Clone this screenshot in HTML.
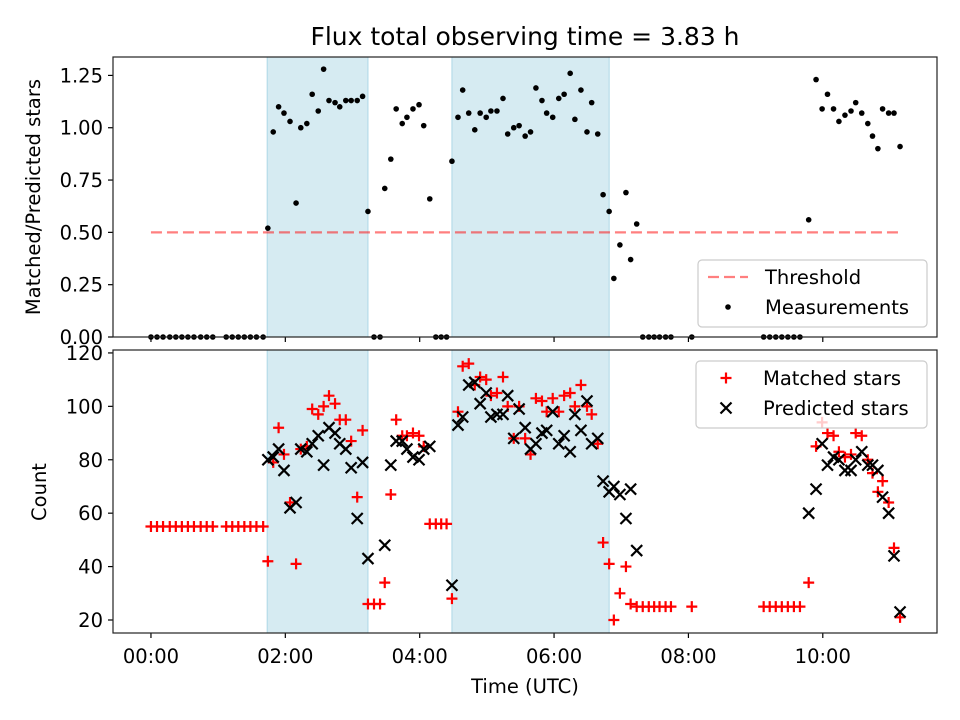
<!DOCTYPE html>
<html><head><meta charset="utf-8"><style>
html,body{margin:0;padding:0;background:#fff;}
svg{display:block;font-family:"DejaVu Sans","Liberation Sans",sans-serif;}
</style></head><body>
<svg id="chart" width="960" height="720" viewBox="0 0 960 720" xmlns="http://www.w3.org/2000/svg">
<text x="525" y="45" font-size="25" text-anchor="middle">Flux total observing time = 3.83 h</text>
<g id="topPanel"></g>
<g id="botPanel"></g>
<text transform="translate(40,197) rotate(-90)" font-size="19.5" text-anchor="middle">Matched/Predicted stars</text>
<text transform="translate(46,492) rotate(-90)" font-size="19.5" text-anchor="middle">Count</text>
<text x="525" y="693" font-size="19.5" text-anchor="middle">Time (UTC)</text>
</svg>
<script>
const times = [0.00,0.09,0.18,0.28,0.37,0.46,0.55,0.64,0.74,0.83,0.92,
1.12,1.21,1.30,1.39,1.48,1.57,1.67,
1.74,1.82,1.90,1.98,2.07,2.16,2.23,2.32,2.40,2.49,2.57,2.65,2.74,2.81,2.90,2.98,3.07,3.15,3.23,3.32,3.41,
3.48,3.57,3.65,3.74,3.81,3.90,3.99,4.06,4.15,4.24,4.32,4.40,
4.48,4.57,4.64,4.73,4.82,4.90,4.99,5.06,5.15,5.24,5.31,5.40,5.48,5.57,5.65,5.73,5.82,5.89,5.98,6.07,6.15,6.24,6.31,6.40,6.49,6.56,6.65,
6.73,6.82,6.89,6.98,7.07,7.14,7.23,7.32,7.41,7.49,7.57,7.66,7.74,8.05,
9.12,9.21,9.30,9.39,9.48,9.57,9.66,
9.79,9.90,9.99,10.07,10.16,10.24,10.33,10.42,10.49,10.58,10.67,10.74,10.82,10.89,10.98,11.06,11.15];
const ratios = [0,0,0,0,0,0,0,0,0,0,0,
0,0,0,0,0,0,0,
0.52,0.98,1.10,1.07,1.03,0.64,1.00,1.02,1.16,1.08,1.28,1.13,1.12,1.10,1.13,1.13,1.13,1.15,0.60,0,0,
0.71,0.85,1.09,1.02,1.05,1.09,1.11,1.01,0.66,0,0,0,
0.84,1.05,1.18,1.07,0.99,1.07,1.05,1.08,1.08,1.14,0.97,1.00,1.01,0.96,0.98,1.19,1.13,1.07,1.05,1.14,1.16,1.26,1.04,1.18,0.98,1.12,0.97,
0.68,0.60,0.28,0.44,0.69,0.37,0.54,0,0,0,0,0,0,0,
0,0,0,0,0,0,0,
0.56,1.23,1.09,1.16,1.09,1.03,1.06,1.08,1.12,1.07,1.02,0.96,0.90,1.09,1.07,1.07,0.91];
const matched = [55,55,55,55,55,55,55,55,55,55,55,
55,55,55,55,55,55,55,
42,79,92,82,64,41,84,85,99,97,100,104,101,95,95,87,66,91,26,26,26,
34,67,95,89,89,90,89,85,56,56,56,56,
28,98,115,116,108,111,110,104,105,111,100,88,100,88,82,103,102,98,103,98,104,105,100,108,100,97,86,
49,41,20,30,40,26,25,25,25,25,25,25,25,25,
25,25,25,25,25,25,25,
34,85,94,90,89,83,81,82,90,89,80,75,68,72,64,47,21];
const predicted = [null,null,null,null,null,null,null,null,null,null,null,
null,null,null,null,null,null,null,
80,81,84,76,62,64,84,83,86,89,78,92,90,86,84,77,58,79,43,null,null,
48,78,87,87,84,81,80,84,85,null,null,null,
33,93,96,108,109,101,105,96,97,97,104,88,99,92,84,86,90,91,98,86,89,83,97,91,102,86,88,
72,68,70,67,58,69,46,null,null,null,null,null,null,null,
null,null,null,null,null,null,null,
60,69,86,78,81,80,76,76,80,83,78,78,76,66,60,44,23];
const bands = [[1.73,3.23],[4.48,6.82]];
const threshold = 0.5;
const thresholdRange = [0.00,11.15];
const xTickLabels = ["00:00","02:00","04:00","06:00","08:00","10:00"];
const xTickHours = [0,2,4,6,8,10];
const ratioTicks = [0,0.25,0.5,0.75,1.0,1.25];
const countTicks = [20,40,60,80,100,120];

const NS="http://www.w3.org/2000/svg";
const L=113,R=937;
const X0=-0.565,X1=11.70;
const xs=t=>L+(t-X0)/(X1-X0)*(R-L);
const TT=57,TB=337, Y0t=0, Y1t=1.338;
const yt=v=>TB-(v-Y0t)/(Y1t-Y0t)*(TB-TT);
const BT=350,BB=633, Y0b=15.13, Y1b=121.1;
const yb=v=>BB-(v-Y0b)/(Y1b-Y0b)*(BB-BT);
function mk(tag,attrs,parent){const e=document.createElementNS(NS,tag);for(const k in attrs)e.setAttribute(k,attrs[k]);parent.appendChild(e);return e;}
const topG=document.getElementById('topPanel'), botG=document.getElementById('botPanel');

function panel(g,T,B,yf,ticks,fmt,labelsX,nm){
  bands.forEach(b=>{
    const r=mk('rect',{x:xs(b[0]),y:T,width:xs(b[1])-xs(b[0]),height:B-T,fill:'#add8e6','fill-opacity':0.5,stroke:'#add8e6','stroke-width':1},g);
    
    
  });
  ticks.forEach(v=>{
    const y=yf(v);
    const l=mk('line',{x1:L-5,x2:L,y1:y,y2:y,stroke:'#000','stroke-width':1.2},g);
    
    
    const t=mk('text',{x:L-10,y:y+7,'font-size':19.5,'text-anchor':'end'},g);
    t.textContent=fmt(v);
    
    
  });
  xTickHours.forEach((h,i)=>{
    const x=xs(h);
    const l=mk('line',{x1:x,x2:x,y1:B,y2:B+5,stroke:'#000','stroke-width':1.2},g);
    
    
    if(labelsX){
      const t=mk('text',{x:x,y:B+30,'font-size':19.5,'text-anchor':'middle'},g);
      t.textContent=xTickLabels[i];
      
      
    }
  });
}
panel(topG,TT,TB,yt,ratioTicks,v=>v.toFixed(2),false,'ratio');
panel(botG,BT,BB,yb,countTicks,v=>String(v),true,'count');

const th=mk('line',{x1:xs(thresholdRange[0]),x2:xs(thresholdRange[1]),y1:yt(threshold),y2:yt(threshold),stroke:'#ff0000','stroke-opacity':0.5,'stroke-width':2.2,'stroke-dasharray':'11,5'},topG);


times.forEach((t,i)=>{
  const c=mk('circle',{cx:xs(t),cy:yt(ratios[i]),r:2.8,fill:'#000'},topG);
  
  
});
times.forEach((t,i)=>{
  const x=xs(t),y=yb(matched[i]);
  const p=mk('path',{d:`M${x-5.5} ${y}H${x+5.5}M${x} ${y-5.5}V${y+5.5}`,stroke:'#ff0000','stroke-width':2.2,fill:'none'},botG);
  
  
});
times.forEach((t,i)=>{
  if(predicted[i]==null)return;
  const x=xs(t),y=yb(predicted[i]);
  const p=mk('path',{d:`M${x-5.5} ${y-5.5}L${x+5.5} ${y+5.5}M${x-5.5} ${y+5.5}L${x+5.5} ${y-5.5}`,stroke:'#000','stroke-width':2.2,fill:'none'},botG);
  
  
});
[[topG,TT,TB],[botG,BT,BB]].forEach(([g,T,B])=>{
  const f=mk('rect',{x:L,y:T,width:R-L,height:B-T,fill:'none',stroke:'#222','stroke-width':1.2},g);
  
  
});
function legend(g,x,y,w,h,items,nm){
  const lg=mk('g',{},g);
  
  
  mk('rect',{x:x,y:y,width:w,height:h,rx:4,fill:'#fff','fill-opacity':0.8,stroke:'#ccc','stroke-width':1.2},lg);
  items.forEach((it,i)=>{
    const cy=y+17+i*30;
    const e=mk('g',{},lg);
    
    
    it.draw(e,x+30,cy);
    const t=mk('text',{x:x+67,y:cy+7,'font-size':19.5},e);
    t.textContent=it.label;
  });
}
legend(topG,698,260,229,67,[
  {label:'Threshold',draw:(e,x,y)=>mk('line',{x1:x-20,x2:x+20,y1:y,y2:y,stroke:'#ff0000','stroke-opacity':0.5,'stroke-width':2.2,'stroke-dasharray':'11,5'},e)},
  {label:'Measurements',draw:(e,x,y)=>mk('circle',{cx:x,cy:y,r:2.8,fill:'#000'},e)}
],'ratio-legend');
legend(botG,696,361,231,67,[
  {label:'Matched stars',draw:(e,x,y)=>mk('path',{d:`M${x-5.5} ${y}H${x+5.5}M${x} ${y-5.5}V${y+5.5}`,stroke:'#ff0000','stroke-width':2.2},e)},
  {label:'Predicted stars',draw:(e,x,y)=>mk('path',{d:`M${x-5.5} ${y-5.5}L${x+5.5} ${y+5.5}M${x-5.5} ${y+5.5}L${x+5.5} ${y-5.5}`,stroke:'#000','stroke-width':2.2},e)}
],'count-legend');
</script>
</body></html>
